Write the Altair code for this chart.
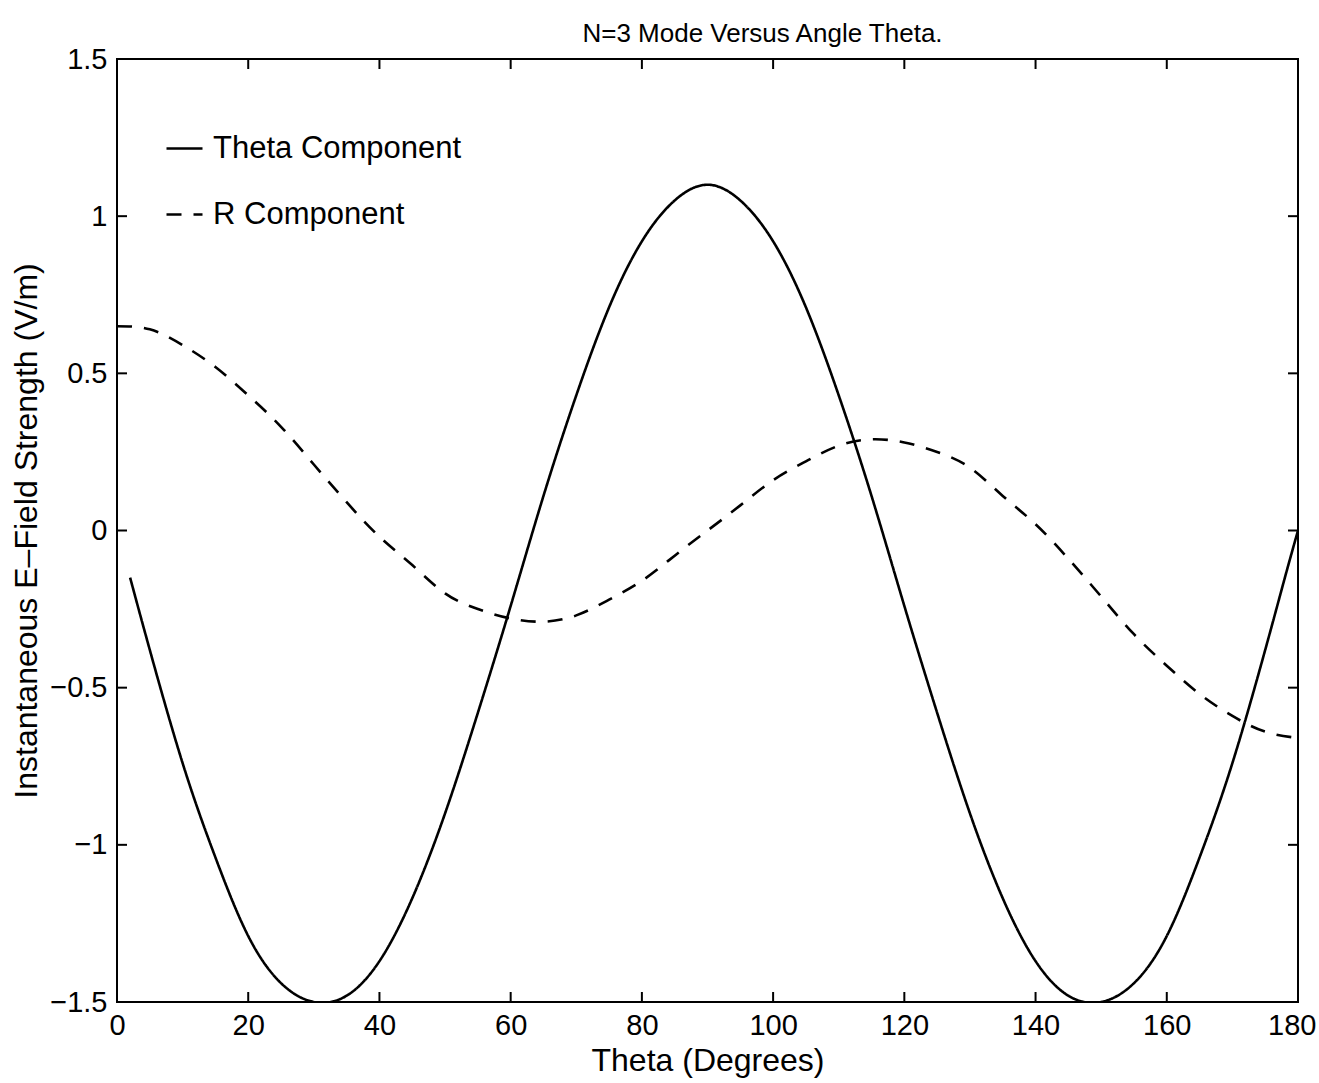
import altair as alt
import pandas as pd

# Theta component of the E-field (solid curve)
theta_deg_t = [2, 5, 10, 15, 20, 25, 30, 35, 40, 45, 50, 55, 60, 65, 70, 75, 80, 85, 90,
               95, 100, 105, 110, 115, 120, 125, 130, 135, 140, 145, 150, 155, 160, 165,
               170, 175, 178, 180]
e_theta = [-0.15, -0.38, -0.74, -1.04, -1.29, -1.44, -1.50, -1.48, -1.37, -1.17, -0.90,
           -0.58, -0.24, 0.11, 0.43, 0.71, 0.92, 1.05, 1.10, 1.05, 0.92, 0.71, 0.43, 0.11,
           -0.24, -0.58, -0.90, -1.17, -1.37, -1.48, -1.50, -1.44, -1.29, -1.04, -0.74,
           -0.38, -0.15, 0.00]

# R component of the E-field (dashed curve)
theta_deg_r = [0, 5, 10, 15, 20, 25, 30, 35, 40, 45, 50, 55, 60, 65, 70, 75, 80, 85, 90,
               95, 100, 105, 110, 115, 120, 125, 130, 135, 140, 145, 150, 155, 160, 165,
               170, 175, 180]
e_r = [0.65, 0.64, 0.59, 0.52, 0.43, 0.33, 0.21, 0.09, -0.02, -0.11, -0.20, -0.25, -0.28,
       -0.29, -0.27, -0.22, -0.16, -0.08, 0.00, 0.08, 0.16, 0.22, 0.27, 0.29, 0.28, 0.25,
       0.20, 0.11, 0.02, -0.09, -0.21, -0.33, -0.43, -0.52, -0.59, -0.64, -0.66]

series_names = ["Theta Component", "R Component"]

x_ticks = [0, 20, 40, 60, 80, 100, 120, 140, 160, 180]
y_ticks = [-1.5, -1, -0.5, 0, 0.5, 1, 1.5]

FONT = "Liberation Sans"

df = pd.concat([
    pd.DataFrame({"theta": theta_deg_t, "value": e_theta, "component": series_names[0]}),
    pd.DataFrame({"theta": theta_deg_r, "value": e_r, "component": series_names[1]}),
], ignore_index=True)

x_scale = alt.Scale(domain=[0, 180], nice=False, zero=False)
y_scale = alt.Scale(domain=[-1.5, 1.5], nice=False, zero=False)

# the last x label sits at the page edge, so it is right-aligned to stay whole
last_x = "datum.value == 180"
x_axis = alt.Axis(values=x_ticks, title="Theta (Degrees)", grid=False, domain=False,
                  ticks=False, tickSize=0, labelPadding=9, titlePadding=5,
                  labelFontSize=29, titleFontSize=32, labelFlush=False,
                  labelAlign=alt.condition(last_x, alt.value("right"), alt.value("center")),
                  labelOffset=alt.condition(last_x, alt.value(18), alt.value(0)))
y_axis = alt.Axis(values=y_ticks, title="Instantaneous E\u2013Field Strength (V/m)",
                  grid=False, domain=False, ticks=False, tickSize=0, labelPadding=10,
                  titlePadding=6, format=".1~f", labelFontSize=29, titleFontSize=32,
                  labelFlush=False)

lines = alt.Chart(df).mark_line(
    color="black", strokeWidth=2.6, interpolate="natural", clip=True
).encode(
    x=alt.X("theta:Q", scale=x_scale, axis=x_axis),
    y=alt.Y("value:Q", scale=y_scale, axis=y_axis),
    strokeDash=alt.StrokeDash(
        "component:N",
        scale=alt.Scale(domain=series_names, range=[[1, 0], [15, 12]]),
        legend=alt.Legend(
            title=None, orient="none", legendX=48, legendY=70,
            symbolType="stroke", symbolSize=1296, symbolStrokeWidth=2.5,
            symbolStrokeColor="black", labelFontSize=31, labelFont=FONT,
            labelColor="black", labelLimit=0, labelOffset=9, rowPadding=31, padding=0,
        ),
    ),
    order=alt.Order("theta:Q"),
)

# Inward tick marks on all four sides of the box
xt = pd.DataFrame({"t": x_ticks[1:-1]})
yt = pd.DataFrame({"t": y_ticks[1:-1]})

tick_style = dict(color="black", thickness=2, size=20, opacity=1, clip=True)

x_bottom = alt.Chart(xt).mark_tick(orient="vertical", **tick_style).encode(
    x=alt.X("t:Q", scale=x_scale), y=alt.Y(datum=-1.5, scale=y_scale))
x_top = alt.Chart(xt).mark_tick(orient="vertical", **tick_style).encode(
    x=alt.X("t:Q", scale=x_scale), y=alt.Y(datum=1.5, scale=y_scale))
y_left = alt.Chart(yt).mark_tick(orient="horizontal", **tick_style).encode(
    y=alt.Y("t:Q", scale=y_scale), x=alt.X(datum=0, scale=x_scale))
y_right = alt.Chart(yt).mark_tick(orient="horizontal", **tick_style).encode(
    y=alt.Y("t:Q", scale=y_scale), x=alt.X(datum=180, scale=x_scale))

chart = alt.layer(lines, x_bottom, x_top, y_left, y_right).properties(
    width=1181,
    height=943,
    title=alt.TitleParams("N=3 Mode Versus Angle Theta.", fontSize=26, font=FONT,
                          fontWeight="normal", anchor="middle", offset=-2, dx=55,
                          color="black"),
    autosize=alt.AutoSizeParams(type="none"),
    padding={"left": 117, "top": 59, "right": 21, "bottom": 81},
).configure(
    background="white",
).configure_view(
    stroke="black", strokeWidth=2, fill="white",
).configure_axis(
    labelFont=FONT, titleFont=FONT, labelColor="black", titleColor="black",
    titleFontWeight="normal",
)

chart.save("out.html", embed_options={"renderer": "svg", "actions": False})
